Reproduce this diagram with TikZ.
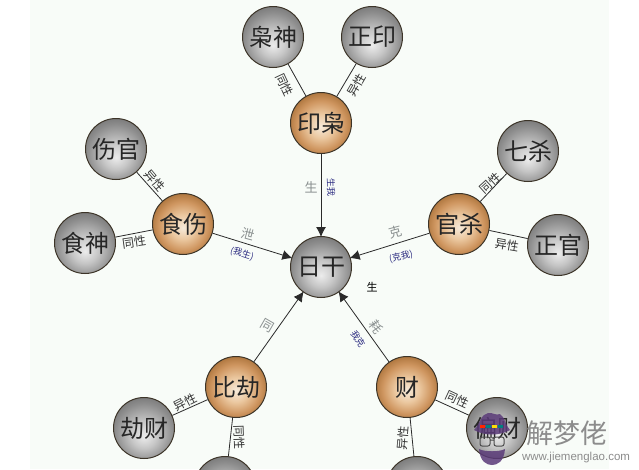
\documentclass[tikz,border=0pt]{standalone}
\usepackage{fontspec}
\setmainfont{Noto Sans CJK SC}
\newfontfamily\latinwm{Liberation Sans}
\usetikzlibrary{arrows.meta}
\definecolor{pagebg}{HTML}{F8FCF8}
\definecolor{edgeline}{HTML}{2A2A2A}
\definecolor{ringcol}{HTML}{3C3428}
\definecolor{bluelab}{HTML}{2A2A80}
\definecolor{graylab}{HTML}{8A9090}
\definecolor{wmgray}{HTML}{8C8C8C}
\definecolor{hatpurple}{HTML}{5A3A78}
\definecolor{gA}{HTML}{ECECEC}
\definecolor{gB}{HTML}{C6C6C6}
\definecolor{gC}{HTML}{8C8C8C}
\definecolor{gD}{HTML}{6E6E6E}
\definecolor{oA}{HTML}{F6EADA}
\definecolor{oB}{HTML}{EBC8A0}
\definecolor{oC}{HTML}{CF9660}
\definecolor{oD}{HTML}{A87038}
\pgfdeclareradialshading{graysphere}{\pgfpoint{0bp}{-7bp}}{
  color(0bp)=(gA); color(11bp)=(gB); color(24bp)=(gC); color(32bp)=(gD); color(50bp)=(gD)}
\pgfdeclareradialshading{orangesphere}{\pgfpoint{0bp}{-3bp}}{
  color(0bp)=(oA); color(10bp)=(oB); color(20bp)=(oC); color(28bp)=(oD); color(50bp)=(oD)}
\tikzset{
  ball/.style={circle,minimum size=61pt,inner sep=0pt,draw=ringcol,line width=1pt,font=\fontsize{24}{24}\selectfont,text=black!85},
  grayball/.style={ball,shading=graysphere},
  orangeball/.style={ball,shading=orangesphere},
  link/.style={draw=edgeline,line width=.8pt},
  mainarrow/.style={link,-{Latex[length=10pt,width=10pt]},shorten >=-1pt},
  smalllab/.style={inner sep=0pt,font=\fontsize{12}{12}\selectfont,text=black!80},
  graymark/.style={inner sep=0pt,font=\fontsize{13}{13}\selectfont,text=graylab},
  bluemark/.style={inner sep=0pt,font=\fontsize{9}{9}\selectfont,text=bluelab},
}
\begin{document}
\begin{tikzpicture}[x=1pt,y=-1pt]
\clip (0,0) rectangle (639,469);
\fill[white] (0,0) rectangle (639,469);
\fill[pagebg] (30,0) rectangle (609,469);
% nodes
\node[grayball] (xiaoshen) at (273,37) {枭神};
\node[grayball] (zhengyin) at (372,37) {正印};
\node[orangeball] (yinxiao) at (321,123) {印枭};
\node[grayball] (shangguan) at (116,149) {伤官};
\node[grayball] (shishen) at (85,243) {食神};
\node[orangeball] (shishang) at (183,224) {食伤};
\node[grayball] (qisha) at (528,151) {七杀};
\node[grayball] (zhengguan) at (558,245) {正官};
\node[orangeball] (guansha) at (459,224) {官杀};
\node[grayball] (rigan) at (321,267) {日干};
\node[orangeball] (bijie) at (236,387) {比劫};
\node[grayball] (jiecai) at (144,428) {劫财};
\node[grayball] (bijian) at (225,487) {};
\node[orangeball] (cai) at (407,387) {财};
\node[grayball] (piancai) at (497,428) {偏财};
\node[grayball] (zhengcai) at (417,487) {};
% connectors
\draw[link] (xiaoshen) -- (yinxiao);
\draw[link] (zhengyin) -- (yinxiao);
\draw[link] (shangguan) -- (shishang);
\draw[link] (shishen) -- (shishang);
\draw[link] (qisha) -- (guansha);
\draw[link] (zhengguan) -- (guansha);
\draw[link] (jiecai) -- (bijie);
\draw[link] (bijian) -- (bijie);
\draw[link] (piancai) -- (cai);
\draw[link] (zhengcai) -- (cai);
\draw[mainarrow] (yinxiao) -- (rigan);
\draw[mainarrow] (shishang) -- (rigan);
\draw[mainarrow] (guansha) -- (rigan);
\draw[mainarrow] (bijie) -- (rigan);
\draw[mainarrow] (cai) -- (rigan);
% relation labels
\node[smalllab,rotate=-65] (l1) at (285,85) {同性};
\node[smalllab,rotate=60] (l2) at (357,85) {异性};
\node[smalllab,rotate=-50] (l3) at (155,181) {异性};
\node[smalllab,rotate=8] (l4) at (134,242) {同性};
\node[smalllab,rotate=42] (l5) at (490,183) {同性};
\node[smalllab,rotate=-10] (l6) at (507,245) {异性};
\node[smalllab,rotate=27] (l7) at (185,402) {异性};
\node[smalllab,rotate=-88] (l8) at (239,437) {同性};
\node[smalllab,rotate=-25] (l9) at (457,399) {同性};
\node[smalllab,rotate=85] (l10) at (403,438) {异性};
% gray and blue marks
\node[graymark] (m1) at (311,187) {生};
\node[bluemark,rotate=-88] (b1) at (331,187) {生我};
\node[graymark,rotate=-15] (m2) at (248,234) {泄};
\node[bluemark,rotate=-18] (b2) at (242,254) {(我生)};
\node[graymark,rotate=15] (m3) at (395,232) {克};
\node[bluemark,rotate=12] (b3) at (401,257) {(克我)};
\node[graymark,rotate=-30] (m4) at (267,326) {同};
\node[graymark,rotate=-55] (m5) at (376,327) {耗};
\node[bluemark,rotate=-58] (b5) at (358,339) {我克};
\node[inner sep=0pt,font=\fontsize{11}{11}\selectfont] (sheng) at (372,287) {生};
% watermark
\fill[hatpurple,opacity=.85] (474,430) .. controls (480,424) and (481,414) .. (488,413) .. controls (492,412) and (496,416) .. (500,414) .. controls (505,417) and (505,425) .. (510,430) .. controls (500,436) and (484,436) .. (474,430) -- cycle;
\fill[red!70!orange] (480,425) rectangle (485,428);
\fill[teal] (486,425) rectangle (491,428);
\fill[yellow!80!orange] (492,425) rectangle (497,428);
\fill[teal] (498,425) rectangle (503,428);
\draw[black!70,line width=1pt,rounded corners=2pt] (480,437) rectangle (490,446) (494,437) rectangle (504,446) (490,440) -- (494,440);
\fill[hatpurple,opacity=.85] (479,449) .. controls (484,452) and (500,452) .. (505,449) .. controls (504,462) and (497,465) .. (492,465) .. controls (487,465) and (480,462) .. (479,449) -- cycle;
\node[inner sep=0pt,font=\fontsize{27}{27}\selectfont,text=wmgray] (wm1) at (567,433) {解梦佬};
\node[inner sep=0pt,font=\latinwm\fontsize{11.5}{11.5}\selectfont,text=wmgray] (wm2) at (576,458) {www.jiemenglao.com};
\end{tikzpicture}
\end{document}
